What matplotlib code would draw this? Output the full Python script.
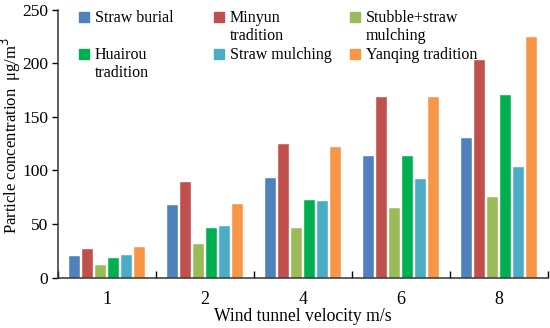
import numpy as np
import matplotlib.pyplot as plt

velocity = ["1", "2", "4", "6", "8"]
straw_burial = [20, 68, 93, 113, 130]
minyun = [27, 89, 125, 168, 203]
stubble = [12, 31, 46, 65, 75]
huairou = [18, 46, 72, 113, 170]
straw_mulching = [21, 48, 71, 92, 103]
yanqing = [28, 69, 122, 168, 224]

series = [
    ("Straw burial", straw_burial, "#4F81BD"),
    ("Minyun\ntradition", minyun, "#C0504D"),
    ("Stubble+straw\nmulching", stubble, "#9BBB59"),
    ("Huairou\ntradition", huairou, "#00B050"),
    ("Straw mulching", straw_mulching, "#4BACC6"),
    ("Yanqing tradition", yanqing, "#F79646"),
]

plt.rcParams['font.family'] = ['Liberation Serif', 'DejaVu Serif']
W, H = 550, 328
fig = plt.figure(figsize=(5.5, 3.28), dpi=100)
ax = fig.add_axes([58/W, 1 - 277.5/H, 490/W, 268/H])

x = np.arange(len(velocity))
w = 0.133
for i, (name, vals, col) in enumerate(series):
    ax.bar(x + (i - 2.5) * w, vals, w * 0.88, color=col, label=name,
           edgecolor="white", linewidth=0.3)

ax.set_xlim(-0.5, len(velocity) - 0.5)
ax.set_ylim(0, 250)
ax.set_yticks(range(0, 251, 50))
ax.set_xticks(x)
ax.set_xticklabels(velocity)
ax.set_xticks(np.arange(-0.5, len(velocity)), minor=True)
ax.tick_params(axis="x", which="major", length=0, labelsize=13, pad=10)
ax.tick_params(axis="x", which="minor", direction="in", length=5, width=1)
ax.tick_params(axis="y", direction="out", length=4, width=1, labelsize=12.5, pad=3)
for s in ["top", "right"]:
    ax.spines[s].set_visible(False)
for s in ["left", "bottom"]:
    ax.spines[s].set_linewidth(1.1)
    ax.spines[s].set_color("#333333")

ax.set_xlabel("Wind tunnel velocity m/s", fontsize=12.7, labelpad=0)
ax.set_ylabel("Particle concentration  μg/m$^3$", fontsize=12)
ax.yaxis.set_label_coords(-0.0715, 0.53)

# legend: 3 columns x 2 rows, markers aligned with the first text line
col_x = [79, 214, 350]
row_y = [17, 54]
order = [0, 3, 1, 4, 2, 5]
for k, idx in enumerate(order):
    name, _, col = series[idx]
    cx, cy = col_x[k // 2], row_y[k % 2]
    fig.patches.append(plt.Rectangle((cx / W, 1 - (cy + 5) / H), 10 / W, 10 / H,
                                     transform=fig.transFigure, color=col))
    fig.text((cx + 16) / W, 1 - (cy - 7) / H, name, fontsize=11.5,
             va="top", ha="left", linespacing=1.15)

fig.savefig("out.png", dpi=100)
